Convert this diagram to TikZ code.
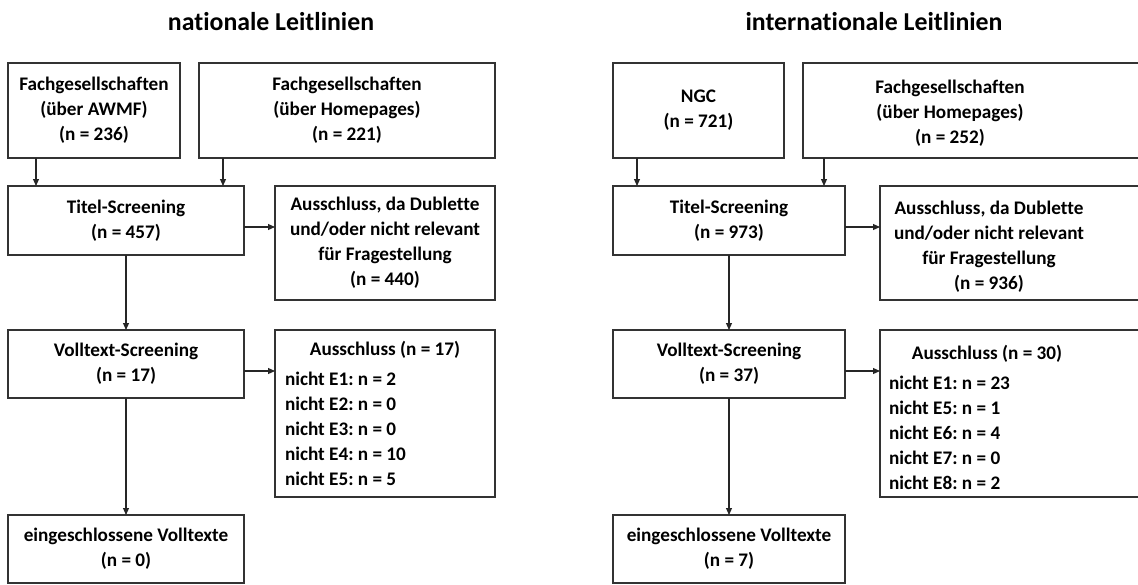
\documentclass[tikz,border=0pt]{standalone}
\usepackage{fontspec}
\setmainfont{Carlito}[Ligatures=NoCommon]
\frenchspacing
\usetikzlibrary{arrows.meta}

\begin{document}
\begin{tikzpicture}[x=1pt, y=-1pt,
  txt/.style={align=center, inner sep=0pt, font=\fontsize{19.2}{25}\selectfont\bfseries},
  box/.style={txt, draw=black!80, line width=1.2pt, outer sep=0pt},
  head/.style={inner sep=0pt, font=\fontsize{25.8}{30}\selectfont\bfseries},
  arr/.style={draw=black!85, line width=1.1pt, -{Triangle[length=7pt,width=6pt]}}]

  \useasboundingbox (0,0) rectangle (1138,584);

  %% headings
  \node[head] (headN) at (271,22) {nationale Leitlinien};
  \node[head] (headI) at (874,22) {internationale Leitlinien};

  %% nationale Leitlinien
  \node[box, minimum width=172pt, minimum height=95pt] (awmf) at (94,110.5)
    {Fachgesellschaften\\(über AWMF)\\(n = 236)};
  \node[box, minimum width=296pt, minimum height=95pt] (hpN) at (347,110.5)
    {Fachgesellschaften\\(über Homepages)\\(n = 221)};
  \node[box, minimum width=236pt, minimum height=69pt] (titN) at (126,220.5)
    {Titel-Screening\\(n = 457)};
  \node[box, minimum width=220pt, minimum height=114pt] (dubN) at (385,243)
    {Ausschluss, da Dublette\\und/oder nicht relevant\\für Fragestellung\\(n = 440)};
  \node[box, minimum width=236pt, minimum height=68pt] (volN) at (126,364)
    {Volltext-Screening\\(n = 17)};
  \node[box, align=left, minimum width=220pt, minimum height=167pt] (ausN) at (385,413.5)
    {\makebox[200pt]{Ausschluss (n = 17)}\\[5pt]
     nicht E1: n = 2\\nicht E2: n = 0\\nicht E3: n = 0\\nicht E4: n = 10\\nicht E5: n = 5};
  \node[box, minimum width=236pt, minimum height=68pt] (einN) at (126,549)
    {eingeschlossene Volltexte\\(n = 0)};

  \coordinate (aN) at ([xshift=28pt]awmf.south west);
  \coordinate (bN) at ([xshift=24pt]hpN.south west);
  \draw[arr] (aN) -- (aN |- titN.north);
  \draw[arr] (bN) -- (bN |- titN.north);
  \draw[arr] ([yshift=-6.5pt]titN.east) -- ([yshift=-6.5pt]titN.east -| dubN.west);
  \draw[arr] (titN) -- (volN);
  \draw[arr] ([yshift=-7pt]volN.east) -- ([yshift=-7pt]volN.east -| ausN.west);
  \draw[arr] (volN) -- (einN);

  %% internationale Leitlinien
  \node[box, minimum width=171pt, minimum height=95pt] (ngc) at (698.5,110.5)
    {NGC\\(n = 721)};
  \node[box, minimum width=350pt, minimum height=95pt, anchor=north west] (hpI) at (803,63) {};
  \node[txt] (hpItxt) at (950,113) {Fachgesellschaften\\(über Homepages)\\(n = 252)};
  \node[box, minimum width=232pt, minimum height=69pt] (titI) at (729,220.5)
    {Titel-Screening\\(n = 973)};
  \node[box, minimum width=270pt, minimum height=114pt, anchor=north west] (dubI) at (880,186) {};
  \node[txt] (dubItxt) at (989,247)
    {Ausschluss, da Dublette\\und/oder nicht relevant\\für Fragestellung\\(n = 936)};
  \node[box, minimum width=232pt, minimum height=68pt] (volI) at (729,364)
    {Volltext-Screening\\(n = 37)};
  \node[box, minimum width=270pt, minimum height=167pt, anchor=north west] (ausI) at (880,330) {};
  \node[txt, align=left] (ausItxt) at (987,417)
    {\makebox[196pt]{Ausschluss (n = 30)}\\[5pt]
     nicht E1: n = 23\\nicht E5: n = 1\\nicht E6: n = 4\\nicht E7: n = 0\\nicht E8: n = 2};
  \node[box, minimum width=232pt, minimum height=68pt] (einI) at (729,549)
    {eingeschlossene Volltexte\\(n = 7)};

  \coordinate (aI) at ([xshift=24pt]ngc.south west);
  \coordinate (bI) at ([xshift=21pt]hpI.south west);
  \draw[arr] (aI) -- (aI |- titI.north);
  \draw[arr] (bI) -- (bI |- titI.north);
  \draw[arr] ([yshift=-6.5pt]titI.east) -- ([yshift=-6.5pt]titI.east -| dubI.west);
  \draw[arr] (titI) -- (volI);
  \draw[arr] ([yshift=-7pt]volI.east) -- ([yshift=-7pt]volI.east -| ausI.west);
  \draw[arr] (volI) -- (einI);
\end{tikzpicture}
\end{document}
